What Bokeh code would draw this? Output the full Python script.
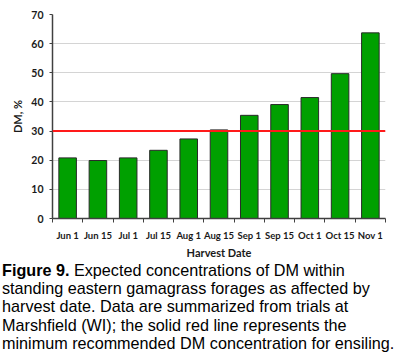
from bokeh.plotting import figure
from bokeh.models import FixedTicker, Span, Range1d, ColumnDataSource, Div
from bokeh.layouts import column
from bokeh.embed import file_html
from bokeh.resources import INLINE

dates = ["Jun 1", "Jun 15", "Jul 1", "Jul 15", "Aug 1", "Aug 15",
         "Sep 1", "Sep 15", "Oct 1", "Oct 15", "Nov 1"]
dm = [20.8, 19.9, 20.8, 23.4, 27.3, 30.4, 35.4, 39.1, 41.5, 49.7, 63.7]
threshold = 30
y_ticks = [0, 10, 20, 30, 40, 50, 60, 70]
caption_bold = "Figure 9."
caption_lines = [
    "Expected concentrations of DM within",
    "standing eastern gamagrass forages as affected by",
    "harvest date. Data are summarized from trials at",
    "Marshfield (WI); the solid red line represents the",
    "minimum recommended DM concentration for ensiling.",
]

FONT = "Lato"

n = len(dates)
centers = [i + 0.5 for i in range(n)]
src = ColumnDataSource(dict(x=centers, top=dm))

p = figure(width=400, height=261, output_backend="svg", toolbar_location=None,
           x_range=Range1d(0, n), y_range=Range1d(0, 70),
           min_border_left=52, min_border_right=15, min_border_top=14,
           min_border_bottom=36)
p.outline_line_color = None
p.background_fill_color = "white"
p.border_fill_color = "white"

p.vbar(x="x", top="top", width=0.58, bottom=0, source=src,
       fill_color="#00a000", line_color="#2a2a2a", line_width=1)

p.add_layout(Span(location=threshold, dimension="width",
                  line_color="#ff1a1a", line_width=2))

# x axis
p.xaxis.ticker = FixedTicker(ticks=centers, minor_ticks=list(range(n + 1)))
p.xaxis.major_label_overrides = {c: d for c, d in zip(centers, dates)}
p.xaxis.major_tick_line_color = None
p.xaxis.major_tick_out = 0
p.xaxis.major_tick_in = 0
p.xaxis.minor_tick_line_color = "#404040"
p.xaxis.minor_tick_out = 4
p.xaxis.minor_tick_in = 0
p.xaxis.major_label_standoff = 7
p.xaxis.major_label_text_font = FONT
p.xaxis.major_label_text_font_style = "bold"
p.xaxis.major_label_text_font_size = "9.5px"
p.xaxis.major_label_text_color = "#1a1a1a"
p.xaxis.axis_line_color = "#404040"
p.xaxis.axis_line_width = 1.5
p.xaxis.axis_label = "Harvest Date"
p.xaxis.axis_label_text_font = FONT
p.xaxis.axis_label_text_font_style = "bold"
p.xaxis.axis_label_text_font_size = "11px"
p.xaxis.axis_label_text_color = "#1a1a1a"
p.xaxis.axis_label_standoff = 2

# y axis
p.yaxis.ticker = FixedTicker(ticks=y_ticks)
p.yaxis.minor_tick_line_color = None
p.yaxis.major_tick_out = 3
p.yaxis.major_tick_in = 0
p.yaxis.major_tick_line_color = "#404040"
p.yaxis.major_label_standoff = 6
p.yaxis.major_label_text_font = FONT
p.yaxis.major_label_text_font_style = "bold"
p.yaxis.major_label_text_font_size = "10.5px"
p.yaxis.major_label_text_color = "#1a1a1a"
p.yaxis.axis_line_color = "#404040"
p.yaxis.axis_line_width = 1.5
p.yaxis.axis_label = "DM, %"
p.yaxis.axis_label_text_font = FONT
p.yaxis.axis_label_text_font_style = "bold"
p.yaxis.axis_label_text_font_size = "11px"
p.yaxis.axis_label_text_color = "#1a1a1a"
p.yaxis.axis_label_standoff = 4

p.xgrid.grid_line_color = None
p.ygrid.ticker = FixedTicker(ticks=y_ticks[1:])
p.ygrid.grid_line_color = "#d4d4d4"
p.ygrid.grid_line_width = 1

html = "<b>" + caption_bold + "</b> " + "<br>".join(caption_lines)
cap = Div(text=html, width=398, margin=(0, 0, 0, 2),
          styles={"font-family": "'Liberation Sans', Arial, sans-serif",
                  "font-size": "16.2px", "line-height": "18.2px",
                  "white-space": "nowrap", "color": "black"})

layout = column(p, cap, spacing=0)
open("out.html", "w").write(file_html(layout, INLINE))
